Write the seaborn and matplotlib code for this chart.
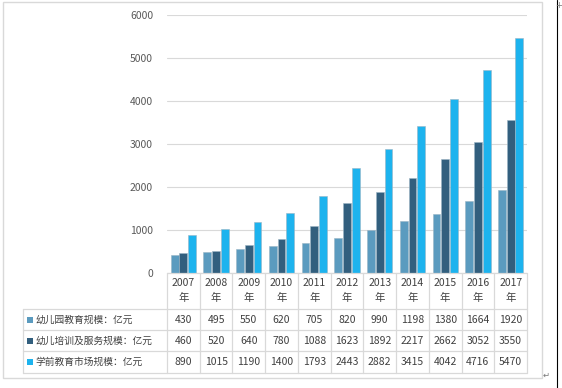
import matplotlib
matplotlib.use("Agg")
import matplotlib.pyplot as plt
import matplotlib.transforms as mtransforms
from matplotlib.lines import Line2D
from matplotlib.patches import Rectangle
import seaborn as sns
import pandas as pd

# ---- data ----
years = ['2007', '2008', '2009', '2010', '2011', '2012', '2013', '2014', '2015', '2016', '2017']
year_suffix = '年'
series_names = ['幼儿园教育规模：亿元', '幼儿培训及服务规模：亿元', '学前教育市场规模：亿元']
kindergarten = [430, 495, 550, 620, 705, 820, 990, 1198, 1380, 1664, 1920]
training = [460, 520, 640, 780, 1088, 1623, 1892, 2217, 2662, 3052, 3550]
market = [890, 1015, 1190, 1400, 1793, 2443, 2882, 3415, 4042, 4716, 5470]
yticks = [0, 1000, 2000, 3000, 4000, 5000, 6000]
colors = ['#5b9bbf', '#325f7e', '#1db3ee']

sns.set_style('white')
plt.rcParams['font.family'] = ['Noto Sans CJK SC', 'DejaVu Sans']

W, H = 562, 388
fig = plt.figure(figsize=(W / 100, H / 100), dpi=100)

def fx(x):
    return x / W

def fy(y):
    return 1 - y / H

ax_left, ax_right, ax_top, ax_bottom = 167, 527, 15, 273
ax = fig.add_axes([fx(ax_left), fy(ax_bottom), fx(ax_right - ax_left), (ax_bottom - ax_top) / H])

rows = []
for name, vals in zip(series_names, [kindergarten, training, market]):
    for yr, v in zip(years, vals):
        rows.append({'year': yr, 'series': name, 'value': v})
df = pd.DataFrame(rows)

sns.barplot(data=df, x='year', y='value', hue='series', hue_order=series_names,
            order=years, palette=colors, width=0.8, gap=0.1, ax=ax,
            edgecolor='#9ab5c5', linewidth=0.4, legend=False, saturation=1)

ax.set_ylim(0, 6000)
ax.set_xlim(-0.5, len(years) - 0.5)
ax.set_yticks(yticks)
ax.set_yticklabels([str(t) for t in yticks])
ax.tick_params(axis='y', length=0, pad=10, labelsize=7.5, labelcolor='#595959')
ax.tick_params(axis='x', length=0, labelbottom=False)
ax.set_xlabel('')
ax.set_ylabel('')
ax.yaxis.grid(True, color='#d9d9d9', linewidth=0.8)
ax.set_axisbelow(True)
for s in ax.spines.values():
    s.set_visible(False)

# ---- data table ----
trans = mtransforms.blended_transform_factory(ax.transData, fig.transFigure)
line_c = '#d9d9d9'
text_c = '#404040'

# horizontal lines
table_left = 23
row_lines = [309, 330, 351, 373]
fig.add_artist(Line2D([fx(ax_left), fx(ax_right)], [fy(273), fy(273)], color=line_c, lw=0.9))
for yl in row_lines:
    fig.add_artist(Line2D([fx(table_left), fx(ax_right)], [fy(yl), fy(yl)], color=line_c, lw=0.9))
# vertical lines
for i in range(len(years) + 1):
    fig.add_artist(Line2D([i - 0.5, i - 0.5], [fy(273), fy(373)], transform=trans, color=line_c, lw=0.9))
fig.add_artist(Line2D([fx(table_left), fx(table_left)], [fy(309), fy(373)], color=line_c, lw=0.9))

# header
for i, yr in enumerate(years):
    fig.text(i, fy(283), yr, transform=trans, ha='center', va='center', fontsize=7.5, color=text_c)
    fig.text(i, fy(298), year_suffix, transform=trans, ha='center', va='center', fontsize=7.5, color=text_c)

row_centers = [320, 341, 362]
for r, (name, vals, c) in enumerate(zip(series_names, [kindergarten, training, market], colors)):
    yc = row_centers[r]
    fig.add_artist(Rectangle((fx(27), fy(yc + 3)), 6 / W, 6 / H, transform=fig.transFigure,
                             facecolor=c, edgecolor='none'))
    fig.text(fx(35), fy(yc), name, ha='left', va='center', fontsize=7, color=text_c)
    for i, v in enumerate(vals):
        fig.text(i, fy(yc), str(v), transform=trans, ha='center', va='center', fontsize=7.5, color=text_c)

# outer chart frame
fig.add_artist(Rectangle((fx(3), fy(378)), 539 / W, 376 / H, transform=fig.transFigure,
                         facecolor='none', edgecolor='#d9d9d9', lw=1))
# document marks
fig.add_artist(Line2D([fx(557), fx(557)], [0, 1], color='black', lw=0.8))
fig.text(fx(559), fy(5), '+', ha='center', va='center', fontsize=6, color='#777777', family='DejaVu Sans')
fig.text(fx(546), fy(375), '↵', ha='center', va='center', fontsize=6, color='#777777', family='DejaVu Sans')

fig.savefig('out.png', dpi=100)
